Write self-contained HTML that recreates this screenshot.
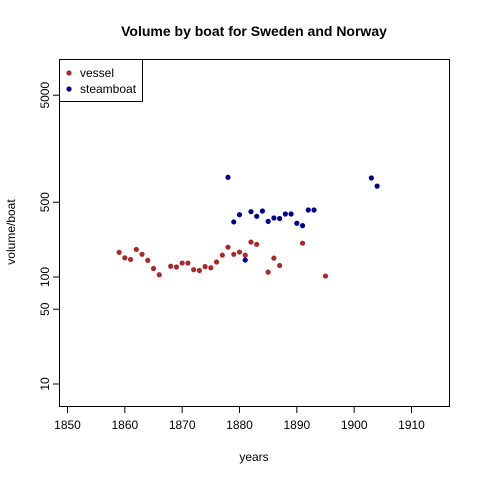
<!DOCTYPE html>
<html><head><meta charset="utf-8"><style>
html,body{margin:0;padding:0;background:#fff;}
svg text{font-family:"Liberation Sans",Arial,sans-serif;fill:#000;}
</style></head><body>
<svg id="chart" width="480" height="480" viewBox="0 0 480 480">
<rect x="0" y="0" width="480" height="480" fill="#fff"/>
<text x="254" y="36" font-size="14" font-weight="bold" text-anchor="middle">Volume by boat for Sweden and Norway</text>
<rect x="59.5" y="59.5" width="390" height="347" fill="none" stroke="#000" stroke-width="1"/>
<g id="xaxis"></g>
<g id="yaxis"></g>
<text x="254" y="461" font-size="12" text-anchor="middle">years</text>
<text transform="translate(15,232) rotate(-90)" font-size="12" text-anchor="middle">volume/boat</text>
<g id="marks"></g>
<g>
<rect x="59.5" y="59.5" width="83" height="42" fill="#fff" stroke="#000"/>
<circle cx="69" cy="73" r="2.6" fill="#a52a2a"/>
<text x="80" y="77" font-size="12">vessel</text>
<circle cx="69" cy="89" r="2.6" fill="#00008b"/>
<text x="80" y="93" font-size="12">steamboat</text>
</g>
</svg>
<script>
const xTicks=[1850,1860,1870,1880,1890,1900,1910];
const yTicks=[10,50,100,500,5000];
const vesselYears=[1859,1860,1861,1862,1863,1864,1865,1866,1868,1869,1870,1871,1872,1873,1874,1875,1876,1877,1878,1879,1880,1881,1882,1883,1885,1886,1887,1891,1895];
const vesselValues=[170,151,146,181,163,143,120,105,126,124,135,135,117,115,125,122,138,160,190,163,171,160,212,202,111,150,128,207,102];
const steamYears=[1878,1879,1880,1881,1882,1883,1884,1885,1886,1887,1888,1889,1890,1891,1892,1893,1903,1904];
const steamValues=[855,327,382,144,408,369,414,331,356,352,388,388,318,302,423,423,842,707];
const NS="http://www.w3.org/2000/svg";
function xs(y){return 67.5+(y-1850)*(411-67)/60;}
function ys(v){return 384-(Math.log10(v)-1)*107;}
function mk(t,a){const e=document.createElementNS(NS,t);for(const k in a)e.setAttribute(k,a[k]);return e;}
const xa=document.getElementById('xaxis'),ya=document.getElementById('yaxis'),mg=document.getElementById('marks');
xa.appendChild(mk('line',{x1:xs(1850),x2:xs(1910),y1:406.5,y2:406.5,stroke:'#000'}));
xTicks.forEach(t=>{
 const l=mk('line',{x1:xs(t),x2:xs(t),y1:406.5,y2:413,stroke:'#000'});
 
 
 xa.appendChild(l);
 const tx=mk('text',{x:xs(t),y:429,'font-size':12,'text-anchor':'middle'});
 tx.textContent=t;
 
 
 xa.appendChild(tx);
});
ya.appendChild(mk('line',{x1:59.5,x2:59.5,y1:ys(10),y2:ys(5000),stroke:'#000'}));
yTicks.forEach(t=>{
 const l=mk('line',{x1:53,x2:59.5,y1:ys(t),y2:ys(t),stroke:'#000'});
 
 
 ya.appendChild(l);
 const tx=mk('text',{transform:`translate(49,${ys(t)}) rotate(-90)`,'font-size':12,'text-anchor':'middle'});
 tx.textContent=t;
 
 
 ya.appendChild(tx);
});
vesselYears.forEach((y,i)=>{
 const c=mk('circle',{cx:xs(y),cy:ys(vesselValues[i]),r:2.6,fill:'#a52a2a'});
 
 
 mg.appendChild(c);
});
steamYears.forEach((y,i)=>{
 const c=mk('circle',{cx:xs(y),cy:ys(steamValues[i]),r:2.6,fill:'#00008b'});
 
 
 mg.appendChild(c);
});
</script>
</body></html>
